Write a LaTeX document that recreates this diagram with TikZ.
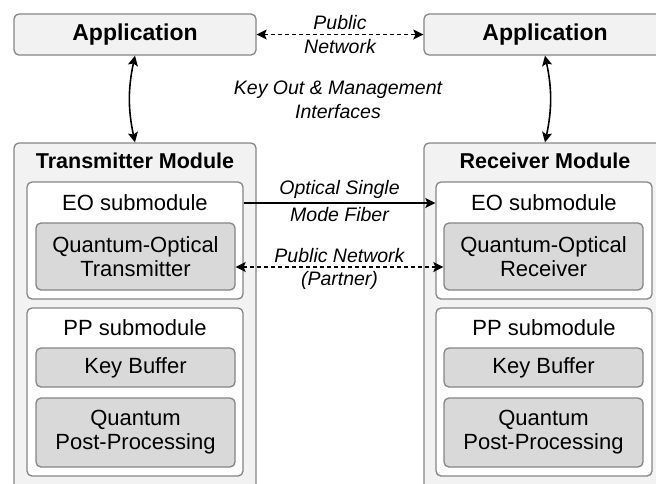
\documentclass[tikz,border=0pt]{standalone}
\usepackage{fontspec}
\setmainfont{Liberation Sans}
\usetikzlibrary{positioning,arrows.meta}
\definecolor{boxfill}{HTML}{F2F2F2}
\definecolor{boxline}{HTML}{858585}
\definecolor{partfill}{HTML}{D9D9D9}

\begin{document}
\begin{tikzpicture}[
    x=1pt, y=-1pt,
    outer/.style={draw=boxline, fill=boxfill, line width=1.3pt, rounded corners=5pt, inner sep=0pt, minimum width=242pt},
    title/.style={font=\bfseries\fontsize{21.5}{24}\selectfont},
    sub/.style={draw=boxline, fill=white, line width=1.3pt, rounded corners=5pt, inner sep=0pt, minimum width=216pt},
    sublbl/.style={font=\fontsize{22}{24}\selectfont},
    part/.style={draw=boxline, fill=partfill, line width=1.3pt, rounded corners=5pt, inner sep=0pt, align=center, minimum width=199pt, font=\fontsize{22}{24}\selectfont},
    lbl/.style={font=\itshape\fontsize{19.5}{24}\selectfont, align=center, inner sep=1pt},
    tip/.tip={Stealth[length=10pt, width=10pt, inset=2pt]},
    link/.style={line width=1.6pt, -tip},
    both/.style={line width=1.6pt, tip-tip},
    dotted link/.style={dash pattern=on 4pt off 3pt},
]

\useasboundingbox (0,0) rectangle (656,483);
\clip (0,0) rectangle (656,483);

% ===== Applications =====
\node[outer, minimum height=41pt, font=\bfseries\fontsize{23}{24}\selectfont] (appL) at (135,34.5) {Application};
\node[outer, minimum height=41pt, font=\bfseries\fontsize{23}{24}\selectfont] (appR) at (545,34.5) {Application};

\node[lbl] (keyout) at (338,99.5) {Key Out \& Management\\Interfaces};

% ===== Transmitter side =====
\node[outer, minimum height=360pt] (txmod) at (135,323) {};
\node[title] (txtitle) at (135,161) {Transmitter Module};

\node[sub, minimum height=117pt] (txeo) at (135,240.5) {};
\node[sublbl] (txeolbl) at (135,203) {EO submodule};
\node[part, minimum height=67pt] (txqo) at (135.5,256.5) {Quantum-Optical\\Transmitter};

\node[sub, minimum height=168pt] (txpp) at (135,392) {};
\node[sublbl] (txpplbl) at (135,328) {PP submodule};
\node[part, minimum height=39pt] (txkb) at (135.5,367.5) {Key Buffer};
\node[part, minimum height=69pt] (txqpp) at (135.5,432.5) {Quantum\\Post-Processing};

% ===== Receiver side =====
\node[outer, minimum height=360pt] (rxmod) at (545,323) {};
\node[title] (rxtitle) at (545,161) {Receiver Module};

\node[sub, minimum height=117pt] (rxeo) at (544,240.5) {};
\node[sublbl] (rxeolbl) at (544,203) {EO submodule};
\node[part, minimum height=67pt] (rxqo) at (543.5,256.5) {Quantum-Optical\\Receiver};

\node[sub, minimum height=168pt] (rxpp) at (544,392) {};
\node[sublbl] (rxpplbl) at (544,328) {PP submodule};
\node[part, minimum height=39pt] (rxkb) at (543.5,367.5) {Key Buffer};
\node[part, minimum height=69pt] (rxqpp) at (543.5,432.5) {Quantum\\Post-Processing};

% ===== Links =====
\draw[both, dotted link] (appL.east) -- (appR.west)
    node[lbl, midway, above=3pt] {Public}
    node[lbl, midway, below=3pt] {Network};

\draw[both] (appL.south) to[bend right=12] (txmod.north);
\draw[both] (appR.south) to[bend left=12] (rxmod.north);

\draw[link] (txeolbl -| txeo.east) -- (rxeolbl -| rxeo.west)
    node[lbl, midway, above=3pt] {Optical Single}
    node[lbl, midway, below=3pt] {Mode Fiber};

\draw[both, dotted link] ([yshift=-10.5pt]txqo.east) -- ([yshift=-10.5pt]rxqo.west)
    node[lbl, midway, above=3pt] {Public Network}
    node[lbl, midway, below=3pt] {(Partner)};

\end{tikzpicture}
\end{document}
